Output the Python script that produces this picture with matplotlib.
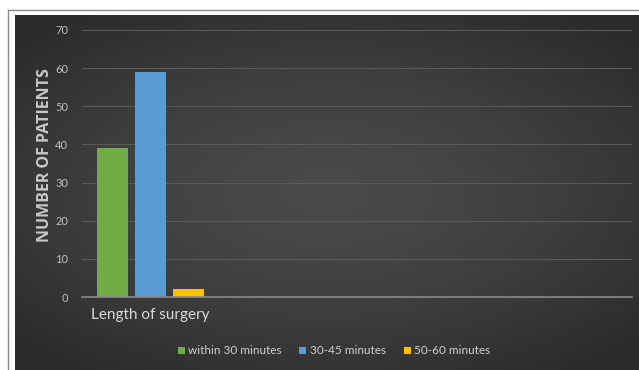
import numpy as np
import matplotlib.pyplot as plt
from matplotlib.lines import Line2D

plt.rcParams['font.family'] = ['Lato', 'DejaVu Sans']

# surgery length groups
groups = ["within 30 minutes", "30-45 minutes", "50-60 minutes"]
patients = [39, 59, 2]
colors = ["#70ad47", "#5b9bd5", "#ffc000"]
category = "Length of surgery"
yticks = [0, 10, 20, 30, 40, 50, 60, 70]

W, H = 639, 370
fig = plt.figure(figsize=(W / 100, H / 100), dpi=100)
fig.patch.set_facecolor("white")

# thin outer frame
fig.add_artist(Line2D([8 / W, 1], [1 - 10 / H, 1 - 10 / H], color="#8c8c8c", lw=1))
fig.add_artist(Line2D([8 / W, 8 / W], [0, 1 - 10 / H], color="#8c8c8c", lw=1))

# dark chart area with a radial glow
bg = fig.add_axes([15 / W, 0, 1 - 15 / W, 1 - 15 / H])
bg.set_axis_off()
gx, gy = np.meshgrid(np.linspace(-1, 1, 400), np.linspace(-1, 1, 240))
r = np.sqrt((gx * 1.0) ** 2 + (gy * 1.1) ** 2)
shade = 0.29 - 0.12 * np.clip(r / 1.35, 0, 1) ** 1.5
bg.imshow(np.dstack([shade] * 3), aspect="auto", extent=[0, 1, 0, 1])
bg.set_xlim(0, 1)
bg.set_ylim(0, 1)

ax = fig.add_axes([82 / W, 1 - 297 / H, 550 / W, 267 / H])
ax.patch.set_alpha(0)
x = np.arange(len(groups))
bars = ax.bar(x, patients, width=0.82, color=colors, zorder=3)
ax.set_xlim(-0.80, 13.67)
ax.set_ylim(0, 70)
ax.set_yticks(yticks)
ax.yaxis.grid(True, color="#5a5a5a", lw=0.8, zorder=0)
for s in ["top", "right", "left"]:
    ax.spines[s].set_visible(False)
ax.spines["bottom"].set_color("#8a8a8a")
ax.spines["bottom"].set_linewidth(1.2)
ax.spines["bottom"].set_zorder(4)
ax.tick_params(axis="y", length=0, colors="#bfbfbf", labelsize=8, pad=10)
ax.set_xticks([1])
ax.set_xticklabels([category])
ax.tick_params(axis="x", length=0, colors="#d9d9d9", labelsize=11, pad=8)

# axis title sits a little above the plot's middle
fig.text(45 / W, 1 - 155 / H, "NUMBER OF PATIENTS", color="#c8c8c8", fontsize=11.5,
         fontweight="bold", family=["Open Sans", "DejaVu Sans"],
         rotation=90, ha="center", va="center")

leg = fig.legend(bars, groups, loc="center", bbox_to_anchor=(334 / W, 1 - 351 / H),
                 ncol=3, frameon=False, fontsize=8.5, labelcolor="#d0d0d0",
                 handlelength=0.6, handleheight=0.6, handletextpad=0.3,
                 columnspacing=1.5)

fig.savefig("out.png", dpi=100)
